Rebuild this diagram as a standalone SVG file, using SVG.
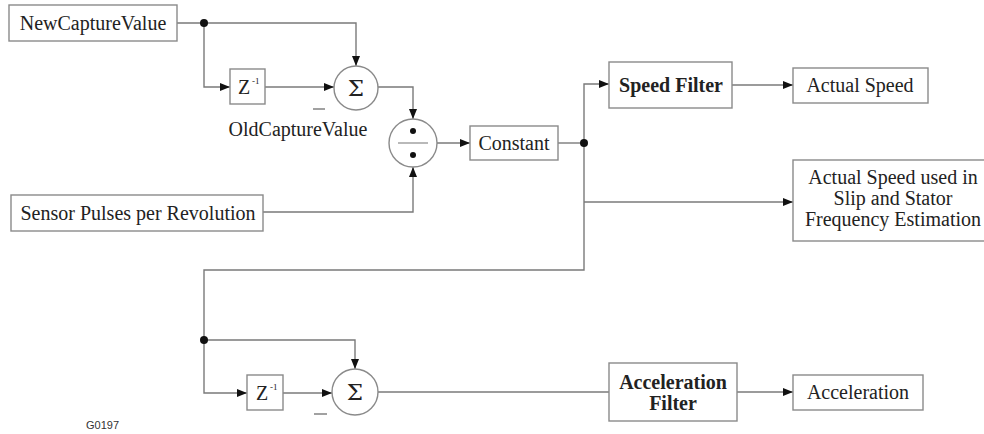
<svg xmlns="http://www.w3.org/2000/svg" width="984" height="434" viewBox="0 0 984 434">
  <defs>
    <marker id="arrow" viewBox="0 0 10 8" refX="10" refY="4" markerWidth="10" markerHeight="8" markerUnits="userSpaceOnUse" orient="auto">
      <path d="M0,0 L10,4 L0,8 z" fill="#111"/>
    </marker>
    <style>
      .box { fill: #fff; stroke: #8a8a8a; stroke-width: 1.4; }
      .circ { fill: #fff; stroke: #8a8a8a; stroke-width: 1.4; }
      .wire { fill: none; stroke: #7a7a7a; stroke-width: 1.4; }
      .arr { marker-end: url(#arrow); }
      .dot { fill: #111; }
      .t { font-family: "Liberation Serif", "Times New Roman", serif; font-size: 20px; fill: #222; text-anchor: middle; }
      .b { font-weight: bold; }
      .sup { font-family: "Liberation Serif", "Times New Roman", serif; font-size: 9px; fill: #222; }
      .sig { font-family: "DejaVu Serif", "Liberation Serif", serif; font-size: 23px; fill: #222; text-anchor: middle; }
      .tag { font-family: "Liberation Sans", Arial, sans-serif; font-size: 11px; fill: #333; }
      .minus { stroke: #8a8a8a; stroke-width: 1.6; }
    </style>
  </defs>

  <!-- signal wiring -->
  <g id="connectors">
    <path class="wire arr" d="M177,23 H356 V66"/>
    <path class="wire arr" d="M204,23 V87 H230"/>
    <path class="wire arr" d="M265,87 H334"/>
    <path class="wire arr" d="M378,87 H413 V119"/>
    <path class="wire arr" d="M263,212 H413 V167"/>
    <path class="wire arr" d="M437,143 H470"/>
    <path class="wire" d="M558,143 H584"/>
    <path class="wire arr" d="M584,143 V84 H609"/>
    <path class="wire arr" d="M732,85 H793"/>
    <path class="wire arr" d="M584,202 H793"/>
    <path class="wire arr" d="M584,143 V270 H204 V393 H247"/>
    <path class="wire arr" d="M204,340 H355 V369"/>
    <path class="wire arr" d="M283,393 H332"/>
    <path class="wire" d="M378,392 H609"/>
    <path class="wire arr" d="M737,392 H793"/>
    <circle class="dot" cx="204" cy="23" r="4"/>
    <circle class="dot" cx="584" cy="143" r="4"/>
    <circle class="dot" cx="204" cy="340" r="4"/>
  </g>

  <g id="new-capture">
    <rect class="box" x="9" y="5" width="168" height="36"/>
    <text class="t" x="93" y="30">NewCaptureValue</text>
  </g>

  <g id="delay-1">
    <rect class="box" x="230" y="69" width="35" height="35"/>
    <text class="t" x="244" y="94">Z</text>
    <text class="sup" x="252" y="84">-1</text>
  </g>

  <g id="sum-1">
    <circle class="circ" cx="356" cy="88" r="22"/>
    <text class="sig" x="356" y="96">Σ</text>
    <line class="minus" x1="313" y1="109" x2="325" y2="109"/>
  </g>

  <g id="old-capture-label">
    <text class="t" x="298" y="136">OldCaptureValue</text>
  </g>

  <g id="divide">
    <circle class="circ" cx="413" cy="143" r="24"/>
    <line x1="398" y1="143" x2="428" y2="143" stroke="#8a8a8a" stroke-width="1.2"/>
    <circle class="dot" cx="413" cy="131" r="3"/>
    <circle class="dot" cx="413" cy="155" r="3"/>
  </g>

  <g id="sensor-pulses">
    <rect class="box" x="11" y="195" width="252" height="36"/>
    <text class="t" x="138" y="220">Sensor Pulses per Revolution</text>
  </g>

  <g id="constant">
    <rect class="box" x="470" y="126" width="88" height="34"/>
    <text class="t" x="514" y="150">Constant</text>
  </g>

  <g id="speed-filter">
    <rect class="box" x="609" y="62" width="123" height="46"/>
    <text class="t b" x="671" y="92">Speed Filter</text>
  </g>

  <g id="actual-speed">
    <rect class="box" x="793" y="68" width="135" height="35"/>
    <text class="t" x="860" y="92">Actual Speed</text>
  </g>

  <g id="actual-speed-estimation">
    <rect class="box" x="793" y="160" width="200" height="81"/>
    <text class="t" x="893" y="184">Actual Speed used in</text>
    <text class="t" x="893" y="205">Slip and Stator</text>
    <text class="t" x="893" y="226">Frequency Estimation</text>
  </g>

  <g id="delay-2">
    <rect class="box" x="247" y="375" width="36" height="35"/>
    <text class="t" x="262" y="400">Z</text>
    <text class="sup" x="270" y="390">-1</text>
  </g>

  <g id="sum-2">
    <circle class="circ" cx="355" cy="392" r="23"/>
    <text class="sig" x="355" y="400">Σ</text>
    <line class="minus" x1="314" y1="414" x2="327" y2="414"/>
  </g>

  <g id="acceleration-filter">
    <rect class="box" x="609" y="363" width="128" height="58"/>
    <text class="t b" x="673" y="389">Acceleration</text>
    <text class="t b" x="673" y="410">Filter</text>
  </g>

  <g id="acceleration">
    <rect class="box" x="793" y="375" width="130" height="35"/>
    <text class="t" x="858" y="399">Acceleration</text>
  </g>

  <text class="tag" x="86" y="429">G0197</text>
</svg>
